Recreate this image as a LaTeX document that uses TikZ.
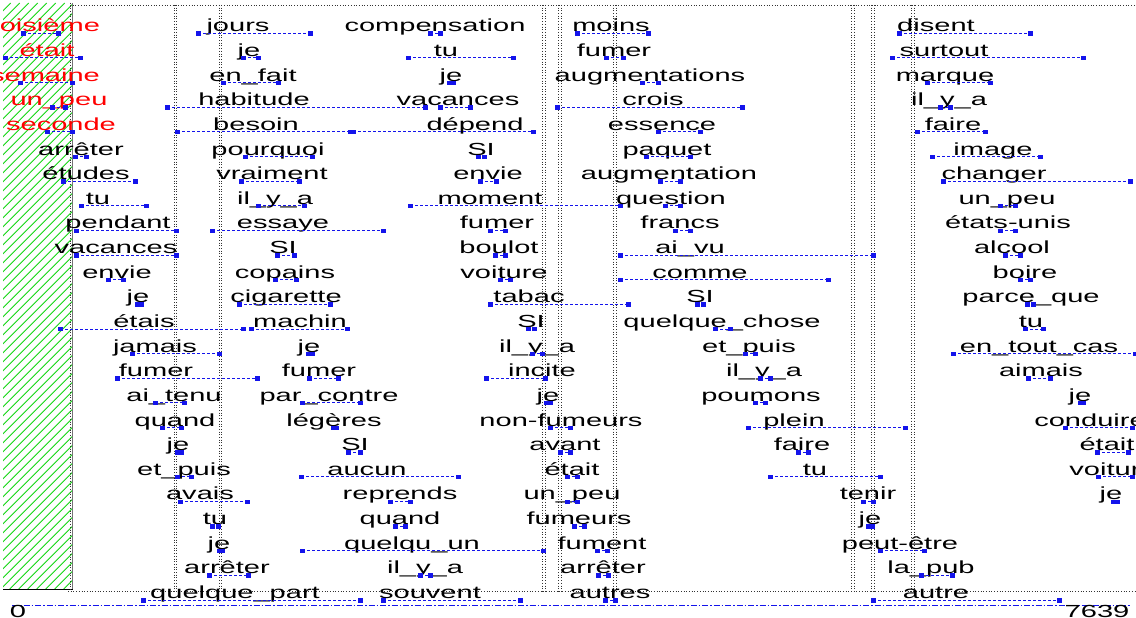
\documentclass[tikz,border=0pt]{standalone}
\usepackage{fontspec}
\setmainfont[FakeStretch=1.66]{Liberation Sans}
\definecolor{occblue}{RGB}{20,20,235}
\definecolor{hatchgreen}{RGB}{20,215,20}
\tikzset{
  wordtxt/.style={anchor=base,inner sep=0pt,font=\fontsize{17.5}{18}\selectfont,text=black},
  redword/.style={text=red},
  occ/.style={draw=occblue,line width=0.9pt,dash pattern=on 3pt off 2pt},
  mk/.style={draw=occblue,fill=occblue,rectangle,inner sep=0pt,minimum size=3.4pt},
  vdot/.style={draw=black!80,line width=0.7pt,dotted},
  axisline/.style={draw=occblue,line width=0.8pt,dash pattern=on 6pt off 2pt on 1.5pt off 2pt},
}
\newcommand\Wrd[7][]{%
  \node[wordtxt,#1] (#2) at (#4,{31.8+24.64*#3}) {#5};
  \coordinate (#2L) at (#6,{33.3+24.64*#3});
  \coordinate (#2R) at (#7,{33.3+24.64*#3});
  \draw[occ] (#2L) -- (#2R);
  \node[mk] at (#2L) {};
  \node[mk] at (#2R) {};
}
\begin{document}
\begin{tikzpicture}[x=1pt,y=-1pt]
\useasboundingbox (0,0) rectangle (1136,618);
\fill[white] (0,0) rectangle (1136,618);
% hatched region
\begin{scope}
  \clip (3,3) rectangle (72.7,589);
  \foreach \k in {0,...,80} \draw[hatchgreen,line width=0.9pt] ({72.7-\k*9},589) -- ++(586,-586);
\end{scope}
\draw[black!55,line width=1.3pt] (72.7,3) -- (72.7,589);
\draw[black,line width=0.8pt] (3,589) -- (72.7,589);
% frame dotted lines
\draw[vdot] (70,3) -- (70,591);
\draw[vdot] (70,5) -- (1136,5);
\draw[vdot] (68,591.5) -- (1136,591.5);
\foreach \x in {174,219,542.5,558.5,613.5,851.5,871.5,911.5}{
  \draw[vdot] (\x,5) -- (\x,591);
  \draw[vdot] ({\x+2.5},5) -- ({\x+2.5},591);
}
% axis
\coordinate (axL) at (12,605);
\coordinate (axR) at (1130,605);
\draw[axisline] (axL) -- (axR);
\node[wordtxt] (zero) at (18,617) {0};
\node[wordtxt] (end) at (1097,617) {7639};
% column 1
\Wrd[redword]{a0}{0}{41}{troisième}{23}{58}
\Wrd[redword]{a1}{1}{47}{était}{5}{80}
\Wrd[redword]{a2}{2}{45}{semaine}{20}{72}
\Wrd[redword]{a3}{3}{59}{un\_peu}{52}{65}
\Wrd[redword]{a4}{4}{61}{seconde}{47}{72}
\Wrd{a5}{5}{81}{arrêter}{75}{86}
\Wrd{a6}{6}{86}{études}{63}{135}
\Wrd{a7}{7}{98}{tu}{81}{146}
\Wrd{a8}{8}{118}{pendant}{76}{176}
\Wrd{a9}{9}{116}{vacances}{76}{176}
\Wrd{a10}{10}{117}{envie}{108}{123}
\Wrd{a11}{11}{138}{je}{137}{141}
\Wrd{a12}{12}{144}{étais}{60}{243}
\Wrd{a13}{13}{155}{jamais}{132}{219}
\Wrd{a14}{14}{156}{fumer}{117}{257}
\Wrd{a15}{15}{174}{ai\_tenu}{155}{184}
\Wrd{a16}{16}{175}{quand}{162}{181}
\Wrd{a17}{17}{178}{je}{177}{181}
\Wrd{a18}{18}{184}{et\_puis}{177}{191}
\Wrd{a19}{19}{200}{avais}{180}{247}
\Wrd{a20}{20}{215}{tu}{212}{218}
\Wrd{a21}{21}{219}{je}{219}{222}
\Wrd{a22}{22}{227}{arrêter}{209}{248}
\Wrd{a23}{23}{235}{quelque\_part}{143}{360}
% column 2
\Wrd{b0}{0}{238}{jours}{198}{310}
\Wrd{b1}{1}{249}{je}{243}{258}
\Wrd{b2}{2}{253}{en\_fait}{223}{278}
\Wrd{b3}{3}{254}{habitude}{167}{425}
\Wrd{b4}{4}{256}{besoin}{177}{350}
\Wrd{b5}{5}{268}{pourquoi}{245}{312}
\Wrd{b6}{6}{272}{vraiment}{241}{299}
\Wrd{b7}{7}{275}{il\_y\_a}{258}{304}
\Wrd{b8}{8}{283}{essaye}{212}{383}
\Wrd{b9}{9}{283}{SI}{277}{294}
\Wrd{b10}{10}{285}{copains}{275}{296}
\Wrd{b11}{11}{286}{cigarette}{239}{330}
\Wrd{b12}{12}{300}{machin}{251}{347}
\Wrd{b13}{13}{309}{je}{308}{312}
\Wrd{b14}{14}{319}{fumer}{309}{338}
\Wrd{b15}{15}{329}{par\_contre}{302}{360}
\Wrd{b16}{16}{334}{légères}{333}{336}
\Wrd{b17}{17}{355}{SI}{348}{360}
\Wrd{b18}{18}{367}{aucun}{301}{458}
\Wrd{b19}{19}{400}{reprends}{390}{410}
\Wrd{b20}{20}{400}{quand}{395}{405}
\Wrd{b21}{21}{412}{quelqu\_un}{302}{543}
\Wrd{b22}{22}{425}{il\_y\_a}{420}{430}
\Wrd{b23}{23}{430}{souvent}{383}{520}
% column 3
\Wrd{c0}{0}{435}{compensation}{430}{440}
\Wrd{c1}{1}{446}{tu}{408}{513}
\Wrd{c2}{2}{451}{je}{449}{453}
\Wrd{c3}{3}{458}{vacances}{440}{470}
\Wrd{c4}{4}{475}{dépend}{353}{533}
\Wrd{c5}{5}{481}{SI}{478}{484}
\Wrd{c6}{6}{488}{envie}{480}{496}
\Wrd{c7}{7}{490}{moment}{410}{620}
\Wrd{c8}{8}{497}{fumer}{490}{505}
\Wrd{c9}{9}{499}{boulot}{495}{505}
\Wrd{c10}{10}{504}{voiture}{500}{510}
\Wrd{c11}{11}{529}{tabac}{490}{628}
\Wrd{c12}{12}{531}{SI}{528}{534}
\Wrd{c13}{13}{537}{il\_y\_a}{532}{542}
\Wrd{c14}{14}{542}{incite}{486}{545}
\Wrd{c15}{15}{548}{je}{546}{550}
\Wrd{c16}{16}{561}{non-fumeurs}{550}{570}
\Wrd{c17}{17}{565}{avant}{560}{570}
\Wrd{c18}{18}{572}{était}{567}{577}
\Wrd{c19}{19}{572}{un\_peu}{567}{577}
\Wrd{c20}{20}{579}{fumeurs}{574}{584}
\Wrd{c21}{21}{602}{fument}{597}{607}
\Wrd{c22}{22}{603}{arrêter}{598}{608}
\Wrd{c23}{23}{610}{autres}{605}{615}
% column 4
\Wrd{d0}{0}{611}{moins}{577}{648}
\Wrd{d1}{1}{614}{fumer}{606}{623}
\Wrd{d2}{2}{650}{augmentations}{642}{658}
\Wrd{d3}{3}{653}{crois}{557}{742}
\Wrd{d4}{4}{662}{essence}{658}{700}
\Wrd{d5}{5}{667}{paquet}{646}{690}
\Wrd{d6}{6}{669}{augmentation}{660}{680}
\Wrd{d7}{7}{671}{question}{665}{680}
\Wrd{d8}{8}{680}{francs}{675}{690}
\Wrd{d9}{9}{690}{ai\_vu}{620}{873}
\Wrd{d10}{10}{700}{comme}{620}{828}
\Wrd{d11}{11}{700}{SI}{697}{703}
\Wrd{d12}{12}{722}{quelque\_chose}{715}{730}
\Wrd{d13}{13}{749}{et\_puis}{745}{755}
\Wrd{d14}{14}{764}{il\_y\_a}{760}{770}
\Wrd{d15}{15}{761}{poumons}{755}{765}
\Wrd{d16}{16}{794}{plein}{748}{905}
\Wrd{d17}{17}{802}{faire}{798}{808}
\Wrd{d18}{18}{815}{tu}{770}{880}
\Wrd{d19}{19}{868}{tenir}{863}{873}
\Wrd{d20}{20}{870}{je}{868}{872}
\Wrd{d21}{21}{900}{peut-être}{880}{924}
\Wrd{d22}{22}{931}{la\_pub}{921}{952}
\Wrd{d23}{23}{936}{autre}{873}{1059}
% column 5
\Wrd{e0}{0}{936}{disent}{899}{1030}
\Wrd{e1}{1}{944}{surtout}{892}{1083}
\Wrd{e2}{2}{945}{marque}{927}{990}
\Wrd{e3}{3}{949}{il\_y\_a}{940}{950}
\Wrd{e4}{4}{953}{faire}{917}{985}
\Wrd{e5}{5}{993}{image}{932}{1040}
\Wrd{e6}{6}{994}{changer}{943}{1130}
\Wrd{e7}{7}{1007}{un\_peu}{1000}{1015}
\Wrd{e8}{8}{1008}{états-unis}{1000}{1015}
\Wrd{e9}{9}{1012}{alcool}{1005}{1020}
\Wrd{e10}{10}{1025}{boire}{1020}{1030}
\Wrd{e11}{11}{1031}{parce\_que}{1027}{1033}
\Wrd{e12}{12}{1031}{tu}{1025}{1043}
\Wrd{e13}{13}{1039}{en\_tout\_cas}{953}{1135}
\Wrd{e14}{14}{1041}{aimais}{1028}{1050}
\Wrd{e15}{15}{1080}{je}{1080}{1083}
\Wrd{e16}{16}{1090}{conduire}{1065}{1132}
\Wrd{e17}{17}{1107}{était}{1097}{1128}
\Wrd{e18}{18}{1113}{voiture}{1098}{1132}
\Wrd{e19}{19}{1111}{je}{1113}{1117}
\end{tikzpicture}
\end{document}
